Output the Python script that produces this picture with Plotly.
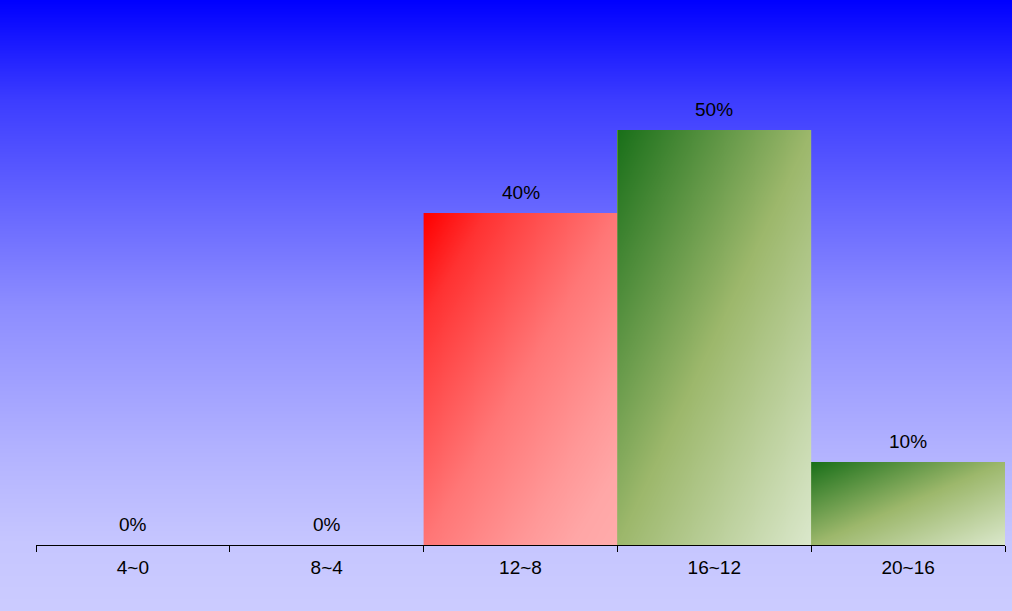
import base64
import struct
import zlib

import numpy as np
import plotly.graph_objects as go

# data
categories = ["4~0", "8~4", "12~8", "16~12", "20~16"]
percents = [0, 0, 40, 50, 10]
bar_styles = ["red", "red", "red", "green", "green"]


def png_uri(arr):
    arr = np.ascontiguousarray(arr.astype(np.uint8))
    h, w, _ = arr.shape
    raw = b"".join(b"\x00" + arr[r].tobytes() for r in range(h))

    def chunk(tag, data):
        c = struct.pack(">I", len(data)) + tag + data
        return c + struct.pack(">I", zlib.crc32(tag + data) & 0xFFFFFFFF)

    png = b"\x89PNG\r\n\x1a\n"
    png += chunk(b"IHDR", struct.pack(">IIBBBBB", w, h, 8, 2, 0, 0, 0))
    png += chunk(b"IDAT", zlib.compress(raw, 9))
    png += chunk(b"IEND", b"")
    return "data:image/png;base64," + base64.b64encode(png).decode()


def ramp(t, stops):
    # stops: list of (pos, (r, g, b))
    pos = [s[0] for s in stops]
    out = np.zeros(t.shape + (3,))
    for k in range(3):
        out[..., k] = np.interp(t, pos, [s[1][k] for s in stops])
    return out


# page background: blue at top fading to lavender
ease = [(0, 0), (0.164, 0.30), (0.5, 0.69), (0.745, 0.88), (0.884, 0.97), (1, 1)]
ty = np.linspace(0, 1, 611)[:, None] * np.ones((1, 4))
f = np.interp(ty, [e[0] for e in ease], [e[1] for e in ease])
bg = np.stack([204 * f, 204 * f, np.full_like(f, 255)], axis=-1)

# diagonal gradients for the bars (top-left -> bottom-right)
n = 200
u = np.linspace(0, 1, n)
t_diag = (u[None, :] + u[:, None]) / 2
red_t = np.interp(t_diag, [e[0] for e in ease], [e[1] for e in ease])
red_img = np.stack([np.full_like(red_t, 255), 172 * red_t, 172 * red_t], axis=-1)
green_img = ramp(t_diag, [(0, (26, 112, 26)), (0.5, (157, 184, 108)), (1, (219, 232, 204))])
gradients = {"red": png_uri(red_img), "green": png_uri(green_img)}
flat = {"red": "#ff7a7a", "green": "#9db86c"}

fig = go.Figure()
fig.add_trace(go.Bar(
    x=categories, y=percents,
    marker=dict(color=[flat[s] for s in bar_styles], line=dict(width=0)),
    hoverinfo="skip",
))

ml, mr, mt, mb = 36, 7, 47, 66
pw, ph = 1012 - ml - mr, 611 - mt - mb
images = [dict(
    source=png_uri(bg), xref="paper", yref="paper",
    x=-ml / pw, y=1 + mt / ph, sizex=1012 / pw, sizey=611 / ph,
    xanchor="left", yanchor="top", sizing="stretch", layer="below",
)]
for i, (v, s) in enumerate(zip(percents, bar_styles)):
    if v > 0:
        images.append(dict(
            source=gradients[s], xref="x", yref="y",
            x=i - 0.5, y=v, sizex=1, sizey=v,
            xanchor="left", yanchor="top", sizing="stretch", layer="above",
        ))

annotations = [dict(
    x=c, y=v, text=f"{v}%", showarrow=False, yanchor="bottom", yshift=8,
    font=dict(size=19, color="black", family="Liberation Sans, Arial, sans-serif"),
) for c, v in zip(categories, percents)]

fig.update_layout(
    width=1012, height=611,
    margin=dict(l=ml, r=mr, t=mt, b=mb),
    paper_bgcolor="#ccccff",
    plot_bgcolor="rgba(0,0,0,0)",
    bargap=0,
    showlegend=False,
    images=images,
    annotations=annotations,
    font=dict(family="Liberation Sans, Arial, sans-serif", color="black"),
    xaxis=dict(
        type="category", range=[-0.5, 4.5],
        showline=True, linecolor="black", linewidth=1,
        ticks="outside", ticklen=6, tickcolor="black", tickson="boundaries",
        ticklabelstandoff=5,
        tickfont=dict(size=19, color="black"),
        showgrid=False, zeroline=False, fixedrange=True,
    ),
    yaxis=dict(range=[0, 60], visible=False, showgrid=False, fixedrange=True),
)

fig.write_html("out.html", config={"displayModeBar": False},
               post_script="document.body.style.margin='0';")
